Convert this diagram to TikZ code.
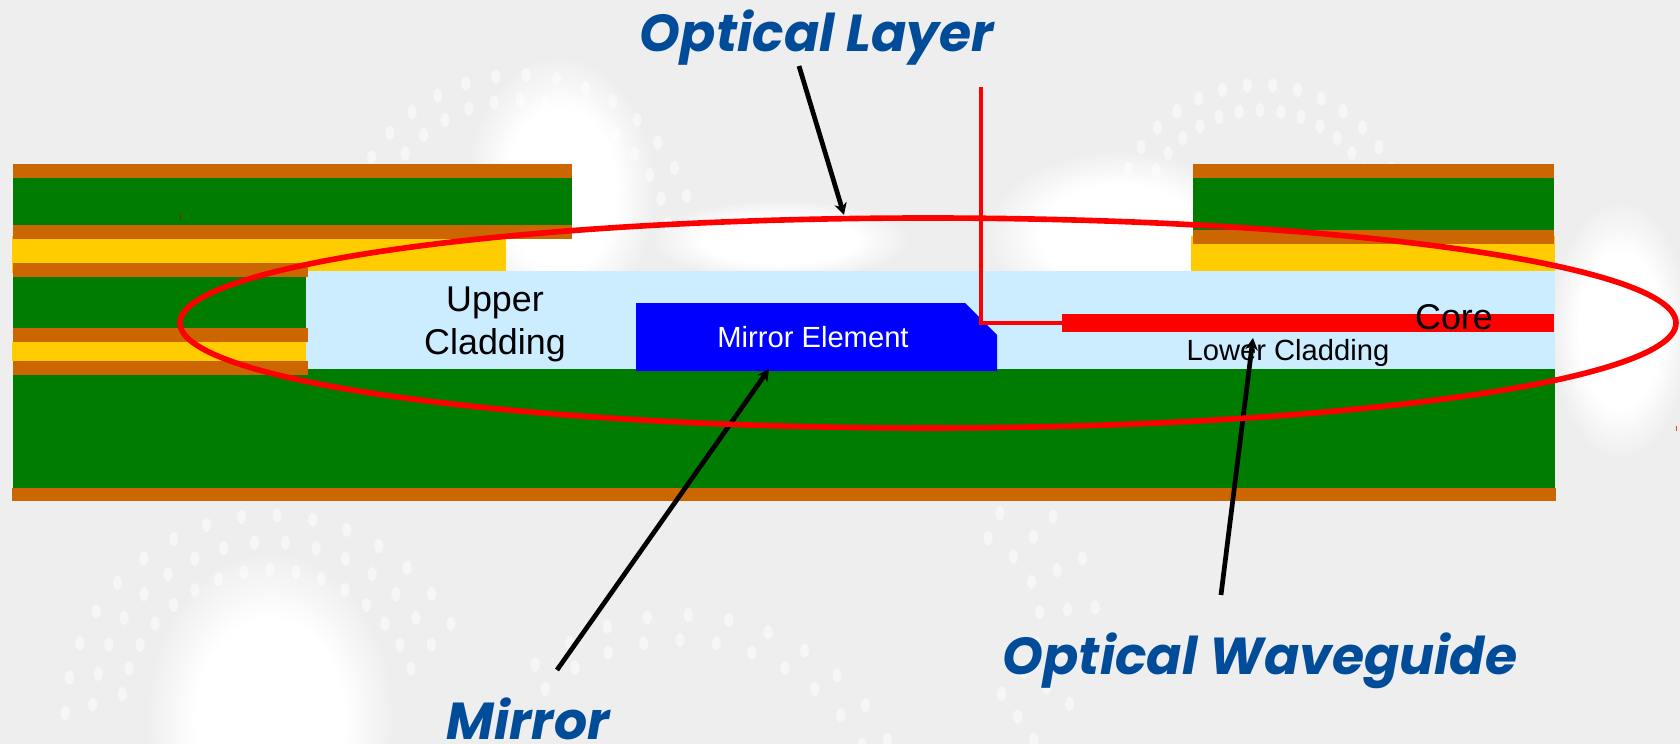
\documentclass[tikz,border=0pt]{standalone}
\usepackage{fontspec}
\setmainfont{Liberation Sans}
\newfontfamily\titlefont{Poppins}
\usetikzlibrary{arrows.meta}
\usetikzlibrary{fadings}
\definecolor{bggray}{HTML}{EEEEEE}
\definecolor{boardgreen}{HTML}{007C00}
\definecolor{copperbrown}{HTML}{CC6600}
\definecolor{prepregyellow}{HTML}{FFCC00}
\definecolor{claddingblue}{HTML}{CCECFF}
\definecolor{mirrorblue}{HTML}{0000FF}
\definecolor{titleblue}{HTML}{004C99}
\pgfdeclareradialshading{softblob}{\pgfpointorigin}{color(0bp)=(pgftransparent!0); color(15bp)=(pgftransparent!0); color(25bp)=(pgftransparent!100); color(50bp)=(pgftransparent!100)}
\pgfdeclarefading{softfade}{\pgfuseshading{softblob}}
\tikzset{
  copper/.style={fill=copperbrown},
  board/.style={fill=boardgreen},
  prepreg/.style={fill=prepregyellow},
  cladding/.style={fill=claddingblue},
  spot/.style={fill=white, opacity=0.5},
  pointer/.style={-{Stealth[length=3.4pt,width=3.6pt]}, line width=1.35pt, black},
  redline/.style={red, line width=1.15pt},
  heading/.style={font=\titlefont\fontsize{14.8}{18}\selectfont\bfseries\itshape, text=titleblue, inner sep=0pt, anchor=base},
  inlabel/.style={font=\fontsize{10.2}{12.2}\selectfont, inner sep=0pt, align=center}
}
\begin{document}
\begin{tikzpicture}[x=0.1mm, y=-0.1mm]
\useasboundingbox (0,0) rectangle (1680,744);

% background
\fill[bggray] (0,0) rectangle (1680,744);
\foreach \bx/\by/\rx/\ry in {560/190/95/135,1120/235/135/85,780/240/130/40,270/720/125/170,1620/330/70/130} {
  \fill[white, path fading=softfade] (\bx,\by) ellipse [x radius=\rx, y radius=\ry];
}
\foreach \cx/\cy/\rr/\ta in {270/720/150/-170,270/720/178/-175,270/720/205/-178,680/850/210/-130,680/850/235/-128,520/250/150/-160,520/250/175/-158,1260/230/120/-170,1260/230/145/-165} {
  \foreach \k in {0,...,15} {
    \fill[spot] ({\cx+\rr*cos(\ta+\k*10)},{\cy+\rr*sin(\ta+\k*10)}) ellipse [x radius=4.5, y radius=7];
  }
}
\foreach \rr in {90,118,146} {
  \foreach \t in {-65,-45,...,65} {
    \fill[spot] ({950+\rr*cos(\t)},{620+\rr*sin(\t)}) ellipse [x radius=4.5, y radius=7];
  }
}

% top left stack
\fill[board] (13,178) rectangle (572,225);
\fill[prepreg] (12,236) rectangle (506,273);
\fill[board] (13,277) rectangle (306,328);
\fill[prepreg] (12,342) rectangle (306,361);

% top right stack
\fill[board] (1193,178) rectangle (1554,230);
\fill[prepreg] (1191,236) rectangle (1555,271);
\fill[copper] (1193,164) rectangle (1554,178);
\fill[copper] (1193,230) rectangle (1554,244);

% optical layer
\fill[cladding] (306,271) rectangle (1555,369);
\fill[board] (13,369) rectangle (1555,488);
\foreach \xb/\ya/\yb in {572/164/178,572/225/239,308/263/277,308/328/342,308/361/375} {
  \fill[copper] (13,\ya) rectangle (\xb,\yb);
}
\fill[copper] (12,488) rectangle (1556,501);
\fill[mirrorblue] (636,371) -- (636,303) -- (965,303) -- (997,335) -- (997,371) -- cycle;
\fill[red] (1062,314) rectangle (1554,332);
\fill[red!70!black] (180,215) rectangle (181,219);

\node[inlabel] (upper) at (495,324) {Upper\\Cladding};
\node[font=\fontsize{8.3}{10}\selectfont, text=white, inner sep=0pt] (mirrorlabel) at (813,337) {Mirror Element};
\node[font=\fontsize{8.3}{10}\selectfont, inner sep=0pt] (lowerlabel) at (1288,353) {Lower Cladding};
\node[inlabel] (corelabel) at (1454,317) {Core};

\node[heading] (layerlabel) at (817,51) {Optical Layer};
\node[heading] (guidelabel) at (1260,674) {Optical Waveguide};
\node[heading] (mirrortitle) at (528,739) {Mirror};

\coordinate (layertail) at (799,66);
\coordinate (layertip) at (844,215);
\coordinate (mirrortail) at (557,670);
\coordinate (mirrortip) at (769,369);
\coordinate (guidetail) at (1221,595);
\coordinate (guidetip) at (1253,338);
\draw[pointer] (layertail) -- (layertip);
\draw[pointer] (mirrortail) -- (mirrortip);
\draw[pointer] (guidetail) -- (guidetip);

\coordinate (beamtop) at (981,89);
\coordinate (beamturn) at (981,323);
\coordinate (beamend) at (1062,323);
\draw[redline, line cap=rect] (beamtop) -- (beamturn) -- (beamend);
\draw[red, line width=1.6pt] (928,323) ellipse [x radius=748, y radius=105];
\fill[red!80!white] (1676,426) rectangle (1677,431);
\end{tikzpicture}
\end{document}
